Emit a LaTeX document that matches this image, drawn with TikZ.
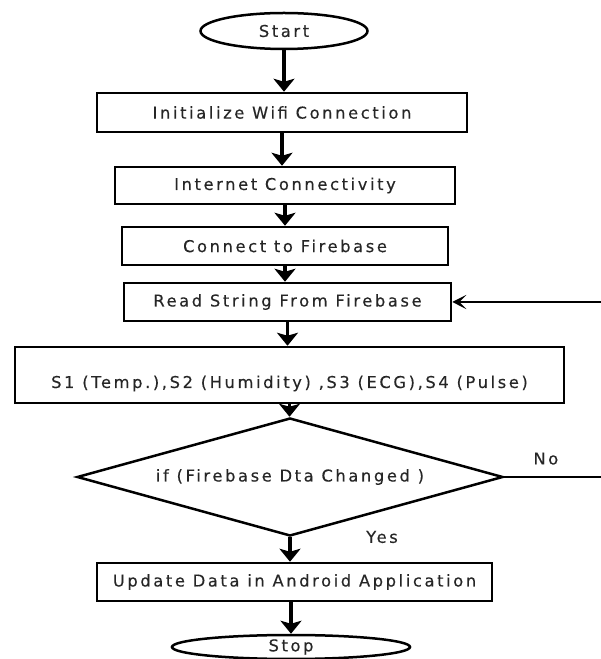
\documentclass[tikz,border=0pt]{standalone}
\usepackage{fontspec}
\setmainfont{DejaVu Sans}[LetterSpace=16,FakeBold=0.3]
\usetikzlibrary{shapes.geometric,arrows.meta}
\begin{document}
\begin{tikzpicture}[x=1pt,y=1pt,
    block/.style={draw=black,line width=2.5pt,rectangle,inner sep=0pt,text=black!85,font=\fontsize{16.3}{18}\selectfont},
    terminal/.style={draw=black,line width=2.5pt,ellipse,inner sep=0pt,text=black!85,font=\fontsize{16.3}{18}\selectfont},
    decision/.style={draw=black,line width=2.5pt,diamond,aspect=3.6,inner sep=0pt,text=black!85,font=\fontsize{16.3}{18}\selectfont},
    flow/.style={line width=3.5pt,-{Stealth[length=13pt,width=21pt,inset=3pt]}},
    loopback/.style={line width=2pt,-{Stealth[length=14pt,width=14pt,inset=7pt]}},
    lbl/.style={text=black!85,font=\fontsize{16.3}{18}\selectfont}]
    \useasboundingbox (0,0) rectangle (601,659);

    %Bloques
    \node[terminal,minimum width=167,minimum height=36] (start) at (284,628) {Start};
    \node[block,minimum width=370,minimum height=39] (wifi) at (282,546.5) {Initialize Wifi Connection};
    \node[block,minimum width=340,minimum height=37] (inet) at (285,473.5) {Internet Connectivity};
    \node[block,minimum width=326,minimum height=38] (fbase) at (285,413) {Connect to Firebase};
    \node[block,minimum width=327,minimum height=38] (read) at (287.5,357) {Read String From Firebase};
    \node[block,minimum width=549,minimum height=56,text height=30pt,text depth=4pt] (sens) at (289.5,284) {S1 (Temp.),S2 (Humidity) ,S3 (ECG),S4 (Pulse)};
    \node[decision,minimum width=426,minimum height=118] (chg) at (290,182) {if (Firebase Dta Changed )};
    \node[block,minimum width=395,minimum height=38] (upd) at (294.5,77) {Update Data in Android Application};
    \node[terminal,minimum width=238,minimum height=24] (stop) at (291,12) {Stop};

    %Flechas
    \draw[flow] (start.south) -- (start.south |- wifi.north);
    \draw[flow] (wifi.south) -- (wifi.south |- inet.north);
    \draw[flow] (inet.south) -- (inet.south |- fbase.north);
    \draw[flow] (fbase.south) -- (fbase.south |- read.north);
    \draw[flow] (read.south) -- (read.south |- sens.north);
    \draw[flow] (sens.south) -- (sens.south |- chg.north);
    \draw[flow] (chg.south) -- (chg.south |- upd.north);
    \draw[flow] (upd.south -| stop.north) -- (stop.north);

    %Lazo
    \coordinate (backin) at (601,357);
    \coordinate (noout) at (601,182);
    \draw[loopback] (backin) -- (read.east);
    \draw[line width=2pt] (chg.east) -- (noout) node[lbl,pos=0.43,above=8pt] (no) {No};
    \node[lbl] (yes) at (382,122) {Yes};
\end{tikzpicture}
\end{document}
